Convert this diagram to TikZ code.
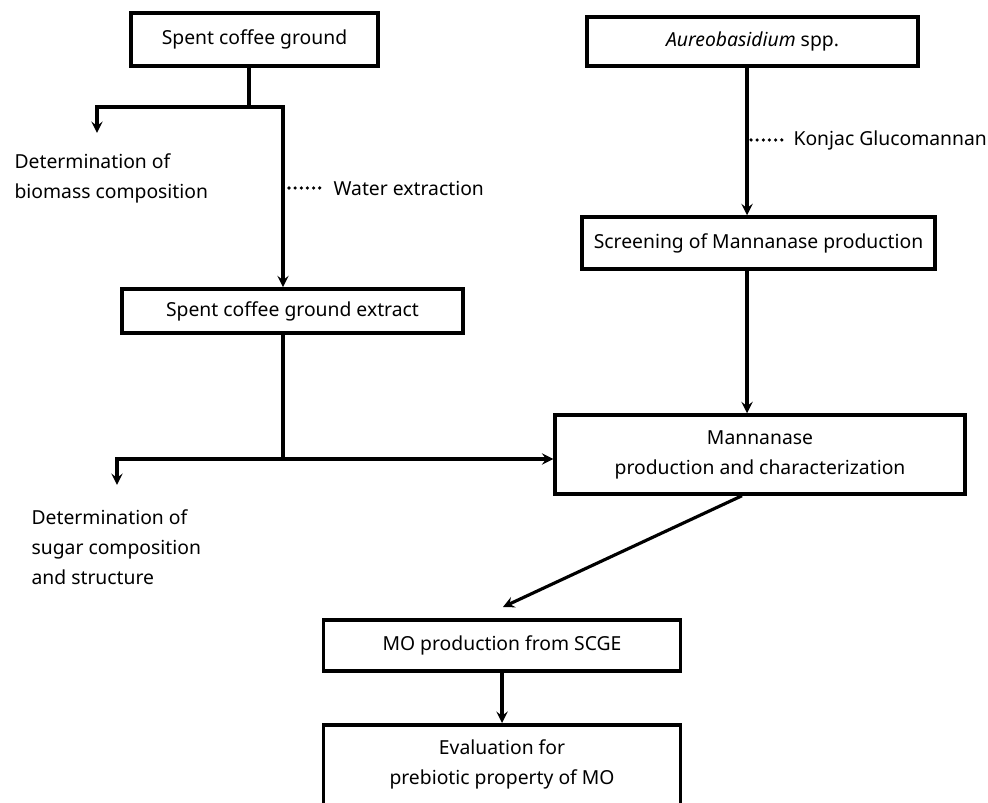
\documentclass[tikz,border=0pt]{standalone}
\usepackage{fontspec}
\setmainfont{Noto Sans}
\usetikzlibrary{positioning}

\begin{document}
\begin{tikzpicture}[>=stealth,x=0.02cm,y=-0.02cm,line width=1.8pt,
  stepbox/.style={draw,line width=2pt,align=center,inner sep=0pt,
    font=\fontsize{11}{17}\selectfont},
  note/.style={align=left,inner sep=0pt,font=\fontsize{11}{17}\selectfont},
  dotline/.style={line width=2pt,dash pattern=on 0pt off 3.5pt,line cap=round}]
  \useasboundingbox (0,0) rectangle (988,803);
  \clip (0,0) rectangle (988,803);
  % boxes
  \node[stepbox,minimum width=4.94cm,minimum height=1.06cm] (scg) at (254.5,39.5) {Spent coffee ground};
  \node[stepbox,minimum width=6.62cm,minimum height=0.98cm] (aur) at (752.5,41.5) {\textit{Aureobasidium} spp.};
  \node[stepbox,minimum width=6.82cm,minimum height=0.88cm] (sce) at (292.5,311) {Spent coffee ground extract};
  \node[stepbox,minimum width=7.06cm,minimum height=1.04cm] (scr) at (758.5,243) {Screening of Mannanase production};
  \node[stepbox,minimum width=8.2cm,minimum height=1.58cm] (man) at (760,454.5) {Mannanase\\production and characterization};
  \node[stepbox,minimum width=7.14cm,minimum height=1.02cm] (mop) at (502,645.5) {MO production from SCGE};
  \node[stepbox,minimum width=7.14cm,anchor=north,inner ysep=0.3cm,text depth=1.6cm] (eva) at (502,723) {Evaluation for\\prebiotic property of MO};
  % side texts
  \node[note,anchor=west] (bio) at (13,178) {Determination of\\biomass composition};
  \node[note,anchor=west] (sug) at (30,547) {Determination of\\sugar composition\\and structure};
  \node[note,anchor=west] (wat) at (332,188) {Water extraction};
  \node[note,anchor=west] (kon) at (792,140) {Konjac Glucomannan};
  % left branch
  \coordinate (j1) at (249,107);
  \coordinate (bioend) at (97,133);
  \coordinate (wline) at (283,188);
  \draw (scg.south -| j1) -- (j1);
  \draw[->] (j1) -| (bioend);
  \draw[->] (j1) -| (sce.north -| wline);
  \draw[dotline] ([xshift=0.12cm]wline) -- ([xshift=-0.22cm]wat.west);
  \coordinate (j2) at (283,459);
  \coordinate (sugend) at (117,485);
  \draw (sce.south -| j2) -- (j2);
  \draw[->] (j2) -| (sugend);
  \draw[->] (j2) -- (man.west |- j2);
  % right branch
  \coordinate (kline) at (747,140);
  \draw[->] (aur.south -| kline) -- (scr.north -| kline);
  \draw[dotline] ([xshift=0.08cm]kline) -- ([xshift=-0.18cm]kon.west);
  \draw[->] (scr.south -| kline) -- (man.north -| kline);
  % bottom
  \coordinate (mopin) at (503,607);
  \draw[->] ([xshift=-0.36cm]man.south) -- (mopin);
  \draw[->] (mop.south) -- (eva.north);
\end{tikzpicture}
\end{document}
